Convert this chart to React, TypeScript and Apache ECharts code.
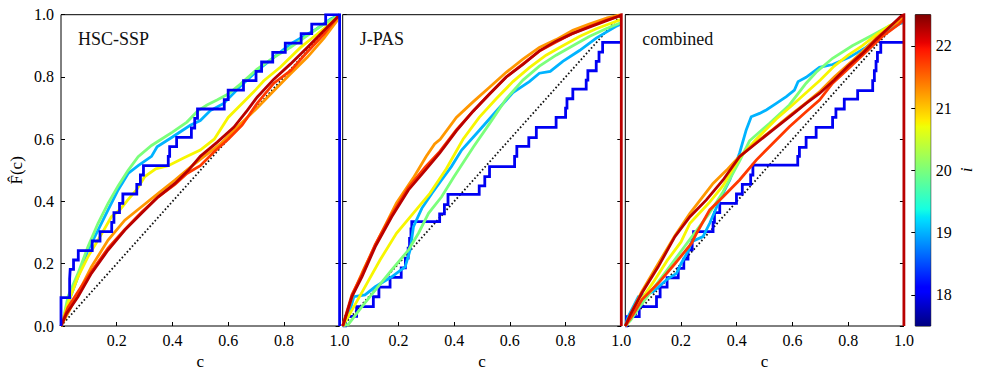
import React, { useEffect, useRef } from "react";
import * as echarts from "echarts";

// ---------- data ----------
const MAGS = [18, 19, 20, 20.75, 21.25, 21.75, 22.25];
const PANEL_NAMES = ["HSC-SSP", "J-PAS", "combined"];
const X_TICK_LABELS = [0.2, 0.4, 0.6, 0.8, 1.0];
const Y_TICK_LABELS = [0.0, 0.2, 0.4, 0.6, 0.8, 1.0];
const CBAR_TICKS = [18, 19, 20, 21, 22];
const CBAR_MIN = 17.5;
const CBAR_MAX = 22.5;

// HSC-SSP panel
const hsc18 = [[0,0],[0,0.091],[0.031,0.152],[0.033,0.182],[0.045,0.212],[0.062,0.242],[0.112,0.273],[0.14,0.303],[0.182,0.333],[0.19,0.364],[0.21,0.394],[0.222,0.424],[0.272,0.455],[0.285,0.485],[0.296,0.515],[0.385,0.545],[0.39,0.576],[0.415,0.606],[0.468,0.636],[0.48,0.667],[0.49,0.697],[0.586,0.727],[0.6,0.758],[0.655,0.788],[0.7,0.818],[0.72,0.848],[0.76,0.879],[0.805,0.909],[0.862,0.939],[0.9,0.97],[0.95,1],[1,1],[1,0]];
const hsc19 = [[0,0],[0.02,0.05],[0.03,0.084],[0.061,0.158],[0.097,0.244],[0.133,0.308],[0.169,0.373],[0.205,0.437],[0.241,0.49],[0.277,0.515],[0.325,0.545],[0.345,0.576],[0.4,0.607],[0.464,0.645],[0.5,0.66],[0.536,0.692],[0.584,0.715],[0.644,0.77],[0.704,0.82],[0.764,0.863],[0.824,0.906],[0.908,0.949],[0.968,0.986],[1,1]];
const hsc20 = [[0,0],[0.01,0.03],[0.025,0.094],[0.061,0.169],[0.097,0.255],[0.133,0.33],[0.169,0.394],[0.205,0.45],[0.241,0.5],[0.277,0.544],[0.325,0.58],[0.36,0.6],[0.4,0.623],[0.452,0.655],[0.49,0.69],[0.524,0.71],[0.56,0.726],[0.6,0.745],[0.644,0.777],[0.704,0.825],[0.764,0.863],[0.824,0.895],[0.884,0.933],[0.944,0.97],[1,1]];
const hsc2075 = [[0,0],[0.025,0.073],[0.061,0.158],[0.097,0.223],[0.133,0.276],[0.181,0.351],[0.211,0.373],[0.24,0.405],[0.271,0.437],[0.301,0.48],[0.34,0.505],[0.385,0.515],[0.44,0.54],[0.5,0.565],[0.55,0.6],[0.6,0.67],[0.65,0.715],[0.7,0.76],[0.728,0.788],[0.788,0.832],[0.86,0.895],[0.92,0.938],[0.99,0.99],[1,1]];
const hsc2125 = [[0,0],[0.03,0.05],[0.061,0.105],[0.109,0.19],[0.169,0.276],[0.229,0.34],[0.289,0.383],[0.349,0.426],[0.409,0.469],[0.457,0.505],[0.5,0.535],[0.572,0.585],[0.644,0.649],[0.704,0.7],[0.764,0.756],[0.824,0.81],[0.884,0.863],[0.944,0.925],[0.99,0.98],[1,1]];
const hsc2175 = [[0,0],[0.025,0.06],[0.061,0.11],[0.109,0.175],[0.169,0.25],[0.229,0.31],[0.289,0.365],[0.349,0.415],[0.409,0.455],[0.452,0.49],[0.5,0.515],[0.55,0.56],[0.6,0.6],[0.65,0.645],[0.704,0.715],[0.764,0.78],[0.824,0.82],[0.884,0.88],[0.944,0.938],[0.99,0.99],[1,1]];
const hsc2225 = [[0,0],[0.02,0.04],[0.061,0.094],[0.109,0.169],[0.169,0.244],[0.229,0.308],[0.289,0.362],[0.349,0.415],[0.409,0.458],[0.457,0.5],[0.5,0.545],[0.56,0.59],[0.62,0.638],[0.668,0.692],[0.704,0.735],[0.764,0.793],[0.824,0.842],[0.884,0.895],[0.944,0.949],[0.99,0.99],[1,1]];

// J-PAS panel
const jpas18 = [[0,0],[0.01,0.031],[0.05,0.062],[0.11,0.094],[0.13,0.125],[0.17,0.156],[0.21,0.187],[0.225,0.218],[0.235,0.25],[0.24,0.281],[0.245,0.312],[0.248,0.335],[0.348,0.36],[0.365,0.39],[0.378,0.423],[0.49,0.45],[0.51,0.48],[0.527,0.512],[0.617,0.545],[0.625,0.577],[0.668,0.605],[0.695,0.638],[0.766,0.67],[0.8,0.7],[0.805,0.73],[0.826,0.761],[0.874,0.79],[0.88,0.82],[0.91,0.85],[0.92,0.88],[0.933,0.911],[1,0.911]];
const jpas19 = [[0,0],[0.02,0.03],[0.04,0.094],[0.08,0.1],[0.117,0.126],[0.176,0.158],[0.224,0.19],[0.242,0.244],[0.254,0.319],[0.284,0.378],[0.32,0.426],[0.355,0.469],[0.39,0.512],[0.427,0.565],[0.49,0.628],[0.551,0.69],[0.611,0.75],[0.67,0.785],[0.706,0.812],[0.745,0.818],[0.79,0.85],[0.85,0.885],[0.91,0.925],[0.98,0.962],[1,0.97]];
const jpas20 = [[0,0],[0.02,0.005],[0.069,0.062],[0.117,0.115],[0.176,0.18],[0.236,0.244],[0.272,0.298],[0.308,0.362],[0.355,0.415],[0.4,0.48],[0.469,0.575],[0.527,0.65],[0.587,0.73],[0.647,0.79],[0.706,0.835],[0.766,0.87],[0.826,0.9],[0.885,0.93],[0.945,0.955],[1,0.975]];
const jpas2075 = [[0,0],[0.02,0.03],[0.074,0.116],[0.134,0.212],[0.193,0.298],[0.253,0.362],[0.313,0.426],[0.372,0.505],[0.432,0.6],[0.49,0.67],[0.551,0.73],[0.611,0.785],[0.67,0.83],[0.73,0.87],[0.79,0.9],[0.85,0.93],[0.91,0.955],[0.97,0.975],[1,0.985]];
const jpas2125 = [[0,0],[0.038,0.105],[0.074,0.18],[0.134,0.29],[0.193,0.395],[0.253,0.475],[0.3,0.545],[0.33,0.585],[0.35,0.6],[0.408,0.67],[0.468,0.72],[0.527,0.767],[0.587,0.815],[0.647,0.857],[0.706,0.895],[0.766,0.92],[0.826,0.95],[0.885,0.97],[0.95,0.99],[1,1]];
const jpas2175 = [[0,0],[0.033,0.1],[0.069,0.165],[0.117,0.262],[0.176,0.358],[0.236,0.445],[0.296,0.51],[0.348,0.56],[0.408,0.63],[0.468,0.69],[0.527,0.745],[0.587,0.8],[0.647,0.842],[0.706,0.883],[0.766,0.912],[0.826,0.94],[0.885,0.962],[0.945,0.982],[1,0.998]];
const jpas2225 = [[0,0],[0.004,0.01],[0.033,0.094],[0.069,0.158],[0.117,0.255],[0.176,0.351],[0.236,0.437],[0.296,0.5],[0.348,0.555],[0.408,0.627],[0.468,0.69],[0.527,0.745],[0.587,0.8],[0.647,0.84],[0.706,0.884],[0.766,0.915],[0.826,0.94],[0.885,0.96],[0.945,0.98],[0.99,0.995],[1,1],[1,0]];

// combined panel
const comb18 = [[0,0],[0.005,0.03],[0.05,0.062],[0.112,0.094],[0.125,0.125],[0.15,0.155],[0.19,0.185],[0.21,0.215],[0.225,0.245],[0.24,0.275],[0.245,0.303],[0.315,0.333],[0.32,0.364],[0.339,0.394],[0.399,0.424],[0.42,0.455],[0.45,0.485],[0.458,0.517],[0.619,0.545],[0.625,0.574],[0.649,0.606],[0.685,0.638],[0.744,0.67],[0.756,0.697],[0.786,0.729],[0.834,0.756],[0.888,0.788],[0.894,0.82],[0.9,0.85],[0.905,0.879],[0.917,0.911],[1,0.911]];
const comb19 = [[0,0],[0.01,0.03],[0.047,0.094],[0.1,0.11],[0.15,0.15],[0.184,0.169],[0.2,0.2],[0.225,0.24],[0.238,0.271],[0.279,0.287],[0.303,0.33],[0.339,0.405],[0.375,0.469],[0.41,0.555],[0.434,0.63],[0.452,0.672],[0.482,0.683],[0.506,0.694],[0.542,0.715],[0.578,0.737],[0.607,0.758],[0.62,0.785],[0.649,0.799],[0.697,0.831],[0.744,0.84],[0.804,0.863],[0.864,0.895],[0.923,0.938],[0.983,0.97],[1,0.975]];
const comb20 = [[0,0],[0.02,0.02],[0.05,0.06],[0.1,0.12],[0.15,0.18],[0.2,0.24],[0.25,0.3],[0.3,0.36],[0.35,0.43],[0.41,0.53],[0.446,0.595],[0.518,0.651],[0.589,0.71],[0.649,0.78],[0.685,0.815],[0.744,0.86],[0.815,0.9],[0.888,0.935],[0.95,0.965],[1,0.985]];
const comb2075 = [[0,0],[0.02,0.03],[0.05,0.075],[0.1,0.14],[0.15,0.21],[0.2,0.27],[0.232,0.33],[0.3,0.395],[0.35,0.45],[0.41,0.54],[0.47,0.6],[0.542,0.665],[0.6,0.71],[0.65,0.75],[0.7,0.79],[0.75,0.835],[0.8,0.87],[0.85,0.9],[0.9,0.935],[0.95,0.965],[1,0.985]];
const comb2125 = [[0,0],[0.02,0.04],[0.059,0.11],[0.118,0.2],[0.178,0.29],[0.232,0.362],[0.315,0.458],[0.363,0.5],[0.41,0.545],[0.47,0.59],[0.53,0.632],[0.589,0.675],[0.649,0.717],[0.7,0.755],[0.75,0.8],[0.8,0.84],[0.85,0.88],[0.9,0.925],[0.95,0.96],[1,0.99]];
const comb2175 = [[0,0],[0.03,0.04],[0.06,0.085],[0.118,0.137],[0.178,0.2],[0.238,0.266],[0.256,0.298],[0.303,0.373],[0.351,0.415],[0.41,0.469],[0.47,0.533],[0.53,0.587],[0.589,0.64],[0.649,0.688],[0.697,0.726],[0.744,0.78],[0.804,0.83],[0.864,0.88],[0.923,0.93],[0.983,0.97],[1,0.985]];
const comb2225 = [[0,0],[0.02,0.04],[0.059,0.105],[0.118,0.19],[0.178,0.287],[0.232,0.351],[0.291,0.405],[0.351,0.469],[0.41,0.544],[0.47,0.587],[0.53,0.63],[0.589,0.672],[0.649,0.715],[0.697,0.747],[0.75,0.79],[0.8,0.835],[0.85,0.875],[0.9,0.92],[0.96,0.97],[0.99,0.995],[1,1],[1,0]];

const DIAGONAL = [[0, 0], [1, 1]];

const PANEL_CURVES = [
  [hsc18, hsc19, hsc20, hsc2075, hsc2125, hsc2175, hsc2225],
  [jpas18, jpas19, jpas20, jpas2075, jpas2125, jpas2175, jpas2225],
  [comb18, comb19, comb20, comb2075, comb2125, comb2175, comb2225],
];

// ---------- jet colormap ----------
const JET_R = [[0, 0], [0.35, 0], [0.66, 1], [0.89, 1], [1, 0.5]];
const JET_G = [[0, 0], [0.125, 0], [0.375, 1], [0.64, 1], [0.91, 0], [1, 0]];
const JET_B = [[0, 0.5], [0.11, 1], [0.34, 1], [0.65, 0], [1, 0]];
function seg(pts: number[][], t: number) {
  for (let i = 1; i < pts.length; i++) {
    if (t <= pts[i][0]) {
      const [x0, y0] = pts[i - 1];
      const [x1, y1] = pts[i];
      return y0 + ((y1 - y0) * (t - x0)) / (x1 - x0);
    }
  }
  return pts[pts.length - 1][1];
}
function jet(t: number) {
  const c = (v: number) => Math.round(Math.max(0, Math.min(1, v)) * 255);
  return `rgb(${c(seg(JET_R, t))},${c(seg(JET_G, t))},${c(seg(JET_B, t))})`;
}
const magColor = (m: number) => jet((m - CBAR_MIN) / (CBAR_MAX - CBAR_MIN));

const FONT = "'Liberation Serif', 'DejaVu Serif', serif";

// layout (px)
const GRID_TOP = 14.7;
const GRID_H = 311.3;
const GRID_LEFTS = [61, 342.7, 625.3];
const GRID_W = 278.6;
const CBAR_LEFT = 915.3;
const CBAR_W = 15.4;

export default function App() {
  const ref = useRef<HTMLDivElement>(null);
  useEffect(() => {
    if (!ref.current) return;
    const chart = echarts.init(ref.current, null, { renderer: "svg" });

    const grids: any[] = GRID_LEFTS.map((l) => ({
      left: l, top: GRID_TOP, width: GRID_W, height: GRID_H,
      show: true, borderColor: "#000", borderWidth: 1, backgroundColor: "transparent",
    }));
    grids.push({
      left: CBAR_LEFT, top: GRID_TOP, width: CBAR_W, height: GRID_H,
      show: true, borderColor: "#000", borderWidth: 1, backgroundColor: "transparent",
    });

    const xAxes: any[] = GRID_LEFTS.map((_, i) => ({
      type: "value", gridIndex: i, min: 0, max: 1, interval: 0.2,
      name: "c", nameLocation: "middle", nameGap: 21,
      nameTextStyle: { fontFamily: FONT, fontSize: 17, color: "#000" },
      axisLine: { show: false },
      axisTick: { show: true, inside: true, length: 4, lineStyle: { color: "#000", width: 1 } },
      axisLabel: {
        show: true, margin: 6, fontFamily: FONT, fontSize: 16, color: "#000",
        formatter: (v: number) => (X_TICK_LABELS.some((t) => Math.abs(t - v) < 1e-9) ? v.toFixed(1) : ""),
      },
      splitLine: { show: false },
    }));
    xAxes.push({ type: "value", gridIndex: 3, min: 0, max: 1, show: false });

    const yAxes: any[] = [];
    GRID_LEFTS.forEach((_, i) => {
      yAxes.push({
        type: "value", gridIndex: i, min: 0, max: 1, interval: 0.2, position: "left",
        name: i === 0 ? "F\u0302(c)" : "", nameLocation: "middle", nameGap: 36, nameRotate: 90,
        nameTextStyle: { fontFamily: FONT, fontSize: 17, color: "#000" },
        axisLine: { show: false },
        axisTick: { show: true, inside: true, length: 4, lineStyle: { color: "#000", width: 1 } },
        axisLabel: {
          show: i === 0, margin: 7, fontFamily: FONT, fontSize: 16, color: "#000",
          formatter: (v: number) => (Y_TICK_LABELS.some((t) => Math.abs(t - v) < 1e-9) ? v.toFixed(1) : ""),
        },
        splitLine: { show: false },
      });
      yAxes.push({
        type: "value", gridIndex: i, min: 0, max: 1, interval: 0.2, position: "right",
        axisLine: { show: false },
        axisTick: { show: true, inside: true, length: 4, lineStyle: { color: "#000", width: 1 } },
        axisLabel: { show: false },
        splitLine: { show: false },
      });
    });
    yAxes.push({
      type: "value", gridIndex: 3, min: CBAR_MIN, max: CBAR_MAX, position: "right",
      axisLine: { show: false },
      axisTick: { show: true, inside: true, length: 4, customValues: CBAR_TICKS, lineStyle: { color: "#000", width: 1 } },
      axisLabel: { show: true, margin: 5, customValues: CBAR_TICKS, fontFamily: FONT, fontSize: 16, color: "#000" },
      splitLine: { show: false },
    });

    const series: any[] = [];
    PANEL_CURVES.forEach((curves, p) => {
      series.push({
        type: "line", xAxisIndex: p, yAxisIndex: 2 * p, data: DIAGONAL,
        symbol: "none", silent: true, z: 1,
        lineStyle: { color: "#111", width: 1.8, type: [1.6, 2.2] },
      });
      curves.forEach((data, k) => {
        series.push({
          type: "line", xAxisIndex: p, yAxisIndex: 2 * p, data,
          symbol: "none", silent: true, clip: true,
          step: k === 0 ? "end" : false,
          z: k === 0 && p === 0 ? 4 : 2,
          lineStyle: { color: magColor(MAGS[k]), width: 2.8, join: "miter" },
        });
      });
    });

    const stops = [0, 0.11, 0.125, 0.34, 0.35, 0.375, 0.5, 0.64, 0.65, 0.66, 0.75, 0.89, 0.91, 1]
      .slice()
      .reverse()
      .map((t) => ({ offset: 1 - t, color: jet(t) }));
    series.push({
      type: "custom", xAxisIndex: 3, yAxisIndex: 6, silent: true,
      data: [[0, CBAR_MIN, 1, CBAR_MAX]],
      renderItem: (_params: any, api: any) => {
        const a = api.coord([api.value(0), api.value(3)]);
        const b = api.coord([api.value(2), api.value(1)]);
        return {
          type: "rect",
          shape: { x: a[0], y: a[1], width: b[0] - a[0], height: b[1] - a[1] },
          style: {
            fill: { type: "linear", x: 0, y: 0, x2: 0, y2: 1, colorStops: stops, global: false },
          },
        };
      },
    });

    const graphic: any[] = PANEL_NAMES.map((name, i) => ({
      type: "text",
      left: GRID_LEFTS[i] + 17,
      top: 30,
      style: { text: name, font: `18px ${FONT}`, fill: "#111" },
      z: 10,
    }));
    graphic.push({
      type: "text",
      x: 966,
      y: 170,
      rotation: Math.PI / 2,
      style: { text: "i", font: `italic 17px ${FONT}`, fill: "#000", textAlign: "center", textVerticalAlign: "middle" },
      z: 10,
    });

    chart.setOption({
      animation: false,
      backgroundColor: "#fff",
      textStyle: { fontFamily: FONT },
      grid: grids,
      xAxis: xAxes,
      yAxis: yAxes,
      series,
      graphic,
    });
    return () => chart.dispose();
  }, []);

  return (
    <div
      ref={ref}
      style={{ position: "fixed", left: 0, top: 0, width: 981, height: 375, background: "#fff" }}
    />
  );
}
